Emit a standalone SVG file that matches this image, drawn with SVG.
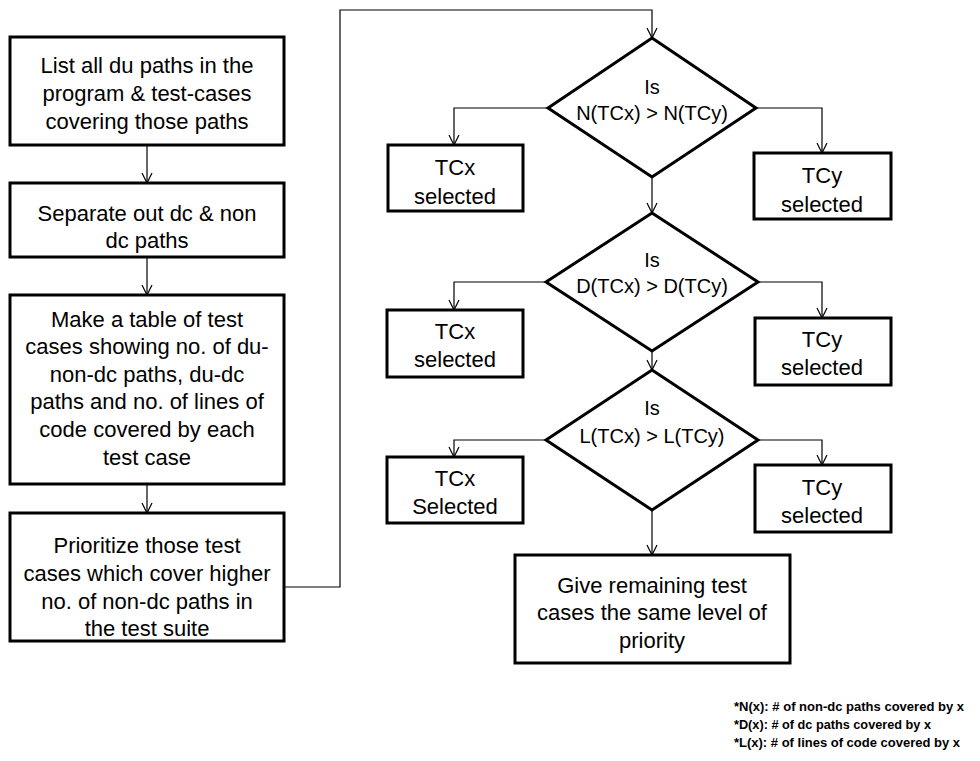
<svg xmlns="http://www.w3.org/2000/svg" width="980" height="761" viewBox="0 0 980 761">
<defs>
<marker id="arr" markerUnits="userSpaceOnUse" markerWidth="12" markerHeight="12" viewBox="0 0 12 12" refX="11" refY="6" orient="auto">
<path d="M1,1 L11,6 L1,11" fill="none" stroke="#000" stroke-width="1.2"/>
</marker>
<style>
.box{fill:#fff;stroke:#000;stroke-width:3}
.dia{fill:#fff;stroke:#000;stroke-width:3}
.t{font-family:"Liberation Sans",Arial,sans-serif;font-size:22px;fill:#000;text-anchor:middle}
.d{font-size:20px}
.c{fill:none;stroke:#000;stroke-width:1.2;marker-end:url(#arr)}
.n{font-family:"Liberation Sans",Arial,sans-serif;font-size:13.5px;font-weight:bold;fill:#000}
</style>
</defs>
<rect width="980" height="761" fill="#fff"/>
<g id="connectors">
<path class="c" d="M147,145 V183"/>
<path class="c" d="M147,257 V295"/>
<path class="c" d="M147,484 V513"/>
<path class="c" d="M284,587 H340 V10 H652 V38"/>
<path class="c" d="M548,108 H454 V145"/>
<path class="c" d="M756,108 H822 V153"/>
<path class="c" d="M652,177 V213"/>
<path class="c" d="M546,282 H454 V310"/>
<path class="c" d="M758,282 H822 V318"/>
<path class="c" d="M652,351 V370"/>
<path class="c" d="M546,440 H454 V457"/>
<path class="c" d="M758,440 H822 V465"/>
<path class="c" d="M652,510 V555"/>
</g>
<g id="n1"><rect class="box" x="10" y="37" width="274" height="108"/>
<text class="t" x="147" y="73">List all du paths in the</text>
<text class="t" x="147" y="101">program &amp; test-cases</text>
<text class="t" x="147" y="129">covering those paths</text></g>
<g id="n2"><rect class="box" x="10" y="183" width="274" height="74"/>
<text class="t" x="147" y="221">Separate out dc &amp; non</text>
<text class="t" x="147" y="248">dc paths</text></g>
<g id="n3"><rect class="box" x="10" y="295" width="274" height="189"/>
<text class="t" x="147" y="327">Make a table of test</text>
<text class="t" x="147" y="354">cases showing no. of du-</text>
<text class="t" x="147" y="382">non-dc paths, du-dc</text>
<text class="t" x="147" y="409">paths and no. of lines of</text>
<text class="t" x="147" y="437">code covered by each</text>
<text class="t" x="147" y="465">test case</text></g>
<g id="n4"><rect class="box" x="10" y="513" width="274" height="128"/>
<text class="t" x="147" y="553">Prioritize those test</text>
<text class="t" x="147" y="581">cases which cover higher</text>
<text class="t" x="147" y="609">no. of non-dc paths in</text>
<text class="t" x="147" y="636">the test suite</text></g>
<g id="d1"><polygon class="dia" points="652,38 756,108 652,177 548,108"/>
<text class="t d" x="652" y="94">Is</text>
<text class="t d" x="652" y="120">N(TCx) &gt; N(TCy)</text></g>
<g id="x1"><rect class="box" x="388" y="145" width="135" height="66"/>
<text class="t" x="455" y="175">TCx</text>
<text class="t" x="455" y="204">selected</text></g>
<g id="y1"><rect class="box" x="754" y="153" width="137" height="66"/>
<text class="t" x="822" y="183">TCy</text>
<text class="t" x="822" y="212">selected</text></g>
<g id="d2"><polygon class="dia" points="652,213 758,282 652,351 546,282"/>
<text class="t d" x="652" y="267">Is</text>
<text class="t d" x="652" y="293">D(TCx) &gt; D(TCy)</text></g>
<g id="x2"><rect class="box" x="387" y="310" width="136" height="67"/>
<text class="t" x="455" y="339">TCx</text>
<text class="t" x="455" y="367">selected</text></g>
<g id="y2"><rect class="box" x="755" y="318" width="136" height="67"/>
<text class="t" x="822" y="347">TCy</text>
<text class="t" x="822" y="375">selected</text></g>
<g id="d3"><polygon class="dia" points="652,370 758,440 652,510 546,440"/>
<text class="t d" x="652" y="415">Is</text>
<text class="t d" x="652" y="443">L(TCx) &gt; L(TCy)</text></g>
<g id="x3"><rect class="box" x="387" y="457" width="136" height="66"/>
<text class="t" x="455" y="486">TCx</text>
<text class="t" x="455" y="514">Selected</text></g>
<g id="y3"><rect class="box" x="755" y="465" width="136" height="67"/>
<text class="t" x="822" y="495">TCy</text>
<text class="t" x="822" y="523">selected</text></g>
<g id="n5"><rect class="box" x="515" y="555" width="275" height="108"/>
<text class="t" x="652" y="593">Give remaining test</text>
<text class="t" x="652" y="620">cases the same level of</text>
<text class="t" x="652" y="648">priority</text></g>
<g id="notes">
<text class="n" x="734" y="711" textLength="230" lengthAdjust="spacingAndGlyphs">*N(x): # of non-dc paths covered by x</text>
<text class="n" x="734" y="729" textLength="197" lengthAdjust="spacingAndGlyphs">*D(x): # of dc paths covered by x</text>
<text class="n" x="734" y="747" textLength="226" lengthAdjust="spacingAndGlyphs">*L(x): # of lines of code covered by x</text>
</g>
</svg>
